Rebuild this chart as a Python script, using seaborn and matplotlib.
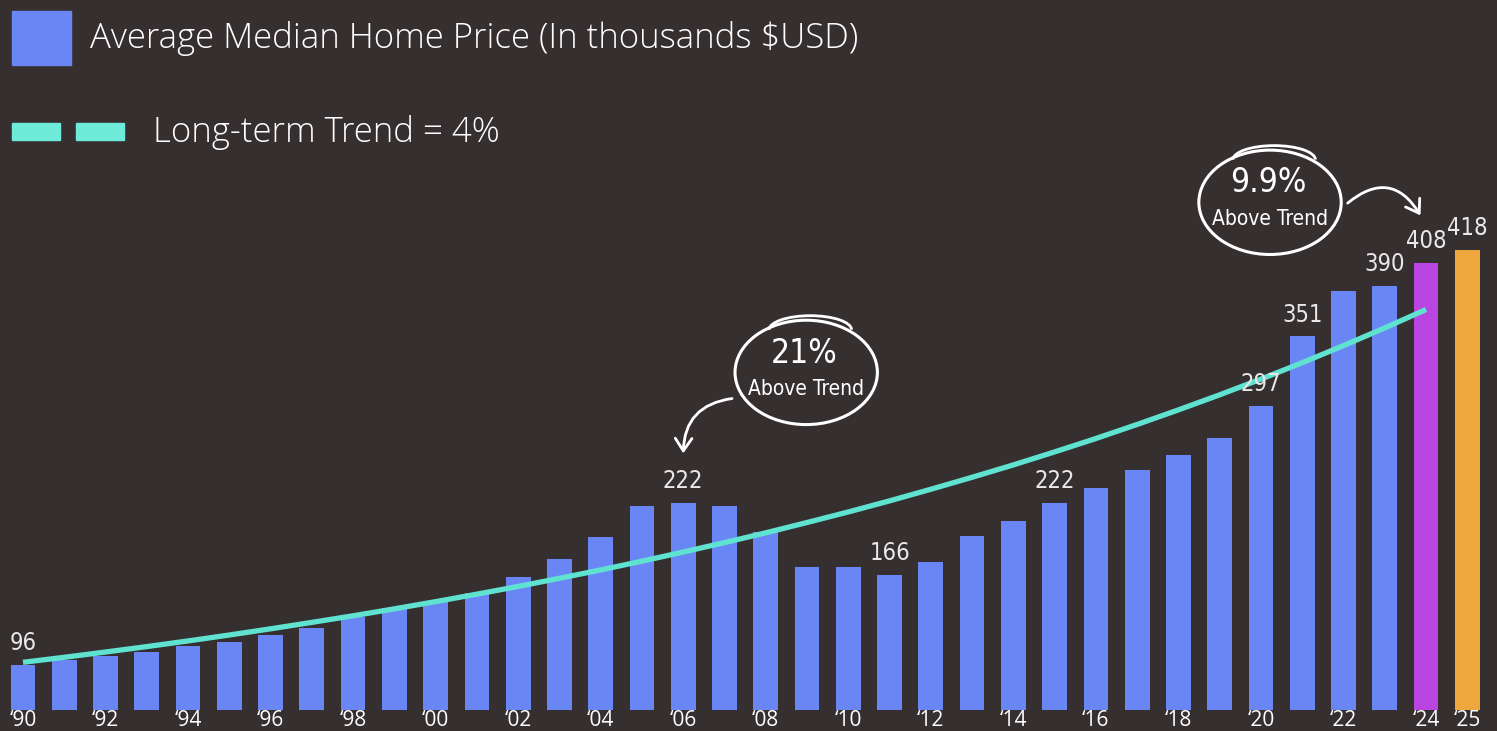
import numpy as np
import pandas as pd
import seaborn as sns
import matplotlib.pyplot as plt
from matplotlib.patches import Rectangle, Ellipse, Arc, FancyArrowPatch

# Data
years = list(range(1990, 2026))
prices = [96, 100, 103, 106, 111, 114, 119, 125, 133, 140,
          145, 152, 164, 178, 195, 219, 222, 219, 199, 172,
          172, 166, 176, 196, 208, 222, 233, 247, 259, 272,
          297, 351, 386, 390, 408, 418]
trend = [98, 101.9, 106.0, 110.2, 114.6, 119.2, 124.0, 129.0, 134.1, 139.5,
         145.1, 150.9, 156.9, 163.2, 169.7, 176.5, 183.6, 190.9, 198.5, 206.5,
         214.7, 223.3, 232.3, 241.6, 251.2, 261.3, 271.7, 282.6, 293.9, 305.6,
         317.8, 330.5, 343.8, 357.5, 371.8]
labelled_years = [1990, 2006, 2011, 2015, 2020, 2021, 2023, 2024, 2025]
tick_years = list(range(1990, 2025, 2)) + [2025]

BG = "#362f30"
BLUE = "#6a86f5"
PURPLE = "#b944e0"
ORANGE = "#eea73d"
TEAL = "#5fe3d0"

bar_colors = [BLUE] * (len(years) - 2) + [PURPLE, ORANGE]

sns.set_theme(style="dark")
plt.rcParams["font.family"] = ["Open Sans", "DejaVu Sans"]
narrow = dict(family="DejaVu Sans", stretch="condensed")

fig = plt.figure(figsize=(14.97, 7.31), dpi=100, facecolor=BG)
ax = fig.add_axes([0, 21 / 731, 1, 710 / 731])
ax.set_facecolor(BG)

df = pd.DataFrame({"year": [str(y) for y in years], "price": prices})
sns.barplot(data=df, x="year", y="price", hue="year", palette=bar_colors,
            width=0.6, legend=False, saturation=1, linewidth=0,
            edgecolor="none", ax=ax)
sns.lineplot(x=np.arange(len(trend)), y=trend, color=TEAL, linewidth=3.8,
             ax=ax, solid_capstyle="butt")

ax.set_xlim(-0.557, 35.72)
ax.set_ylim(61, 612)
for s in ax.spines.values():
    s.set_visible(False)
ax.set_yticks([])
ax.set_xlabel("")
ax.set_ylabel("")
ax.set_xticks([years.index(y) for y in tick_years])
ax.set_xticklabels(["\u2018" + str(y)[2:] for y in tick_years],
                   color="white", fontsize=15)
ax.tick_params(axis="x", length=0, pad=0)

for y in labelled_years:
    i = years.index(y)
    ax.annotate(str(prices[i]), (i, prices[i]), xytext=(0, 7),
                textcoords="offset points", ha="center", va="bottom",
                color="#e8e8e8", fontsize=17, **narrow)

# hand-drawn style callouts
def callout(cx, cy, big, arrow_from, arrow_to, rad):
    ax.add_patch(Ellipse((cx, cy), 3.45, 81, fill=False, ec="white", lw=2.2))
    ax.add_patch(Arc((cx + 0.1, cy + 33), 2.0, 22, theta1=10, theta2=175,
                     ec="white", lw=2))
    ax.text(cx - 0.05, cy + 15, big, color="white", fontsize=24,
            ha="center", va="center", **narrow)
    ax.text(cx, cy - 13, "Above Trend", color="white", fontsize=15,
            ha="center", va="center", **narrow)
    ax.add_patch(FancyArrowPatch(arrow_from, arrow_to,
                                 connectionstyle=f"arc3,rad={rad}",
                                 arrowstyle="->,head_length=9,head_width=6",
                                 color="white", lw=2, mutation_scale=1))

callout(18.98, 323, "21%", (17.25, 303), (16.0, 258), 0.45)
callout(30.22, 455, "9.9%", (32.05, 453), (33.9, 443), -0.6)

# legend drawn on the figure
W, H = 1497, 731
fig.add_artist(Rectangle((12 / W, 1 - 65 / H), 59 / W, 54 / H,
                         transform=fig.transFigure, color=BLUE))
fig.text(90 / W, 1 - 38 / H, "Average Median Home Price (In thousands $USD)",
         color="white", fontsize=25, fontweight="light", va="center", ha="left")
for x0 in (12, 76):
    fig.add_artist(Rectangle((x0 / W, 1 - 140 / H), 48 / W, 17 / H,
                             transform=fig.transFigure, color="#6eead8"))
fig.text(153 / W, 1 - 132 / H, "Long-term Trend = 4%", color="white",
         fontsize=25, fontweight="light", va="center", ha="left")

fig.savefig("out.png", dpi=100, facecolor=BG)
